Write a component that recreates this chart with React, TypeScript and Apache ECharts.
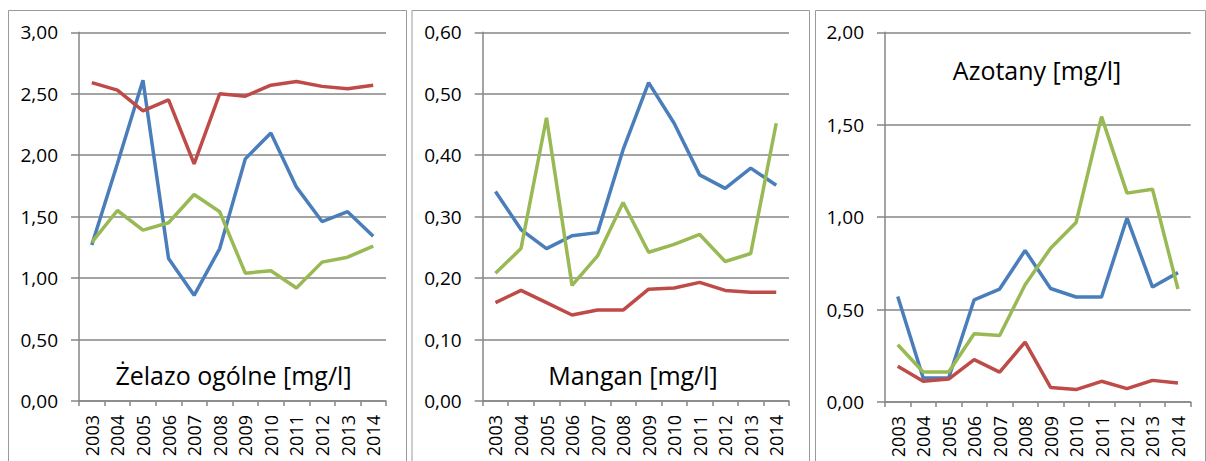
import React, { useEffect, useRef } from "react";
import * as echarts from "echarts";

const years = ["2003", "2004", "2005", "2006", "2007", "2008", "2009", "2010", "2011", "2012", "2013", "2014"];

const feBlue = [1.27, 1.93, 2.61, 1.16, 0.86, 1.24, 1.97, 2.18, 1.74, 1.46, 1.54, 1.34];
const feRed = [2.59, 2.53, 2.36, 2.45, 1.93, 2.5, 2.48, 2.57, 2.6, 2.56, 2.54, 2.57];
const feGreen = [1.29, 1.55, 1.39, 1.45, 1.68, 1.54, 1.04, 1.06, 0.92, 1.13, 1.17, 1.26];

const mnBlue = [0.341, 0.279, 0.248, 0.269, 0.274, 0.409, 0.518, 0.452, 0.368, 0.346, 0.379, 0.351];
const mnRed = [0.16, 0.18, 0.16, 0.14, 0.148, 0.148, 0.182, 0.184, 0.193, 0.18, 0.177, 0.177];
const mnGreen = [0.208, 0.248, 0.461, 0.188, 0.236, 0.323, 0.242, 0.255, 0.271, 0.227, 0.24, 0.452];

const noBlue = [0.571, 0.13, 0.13, 0.553, 0.611, 0.82, 0.614, 0.568, 0.568, 0.995, 0.622, 0.7];
const noRed = [0.193, 0.112, 0.124, 0.229, 0.162, 0.324, 0.079, 0.067, 0.112, 0.072, 0.117, 0.103];
const noGreen = [0.31, 0.162, 0.162, 0.369, 0.36, 0.634, 0.832, 0.971, 1.544, 1.13, 1.151, 0.611];

const titles = ["Żelazo ogólne [mg/l]", "Mangan [mg/l]", "Azotany [mg/l]"];
const yMax = [3, 0.6, 2];
const yInterval = [0.5, 0.1, 0.5];

const BLUE = "#4a7ebb";
const RED = "#be4b48";
const GREEN = "#98b954";
const FONT = "'Open Sans', sans-serif";

export default function App() {
  const ref = useRef<HTMLDivElement>(null);
  useEffect(() => {
    if (!ref.current) return;
    const chart = echarts.init(ref.current, null, { renderer: "svg" });
    const grids = [
      { left: 79, top: 32.3, width: 307, height: 368.7 },
      { left: 482.7, top: 32.3, width: 306.3, height: 368.7 },
      { left: 885, top: 32.3, width: 305.7, height: 369.7 },
    ];
    const seriesSets = [
      [feBlue, feRed, feGreen],
      [mnBlue, mnRed, mnGreen],
      [noBlue, noRed, noGreen],
    ];
    const colors = [BLUE, RED, GREEN];
    const xAxis = grids.map((_, i) => ({
      type: "category",
      gridIndex: i,
      data: years,
      boundaryGap: true,
      axisLine: { lineStyle: { color: "#868686", width: 1.5 } },
      axisTick: { show: true, length: 5, lineStyle: { color: "#868686", width: 1.5 } },
      axisLabel: { rotate: 90, margin: 14, color: "#000", fontSize: 18, fontFamily: FONT, interval: 0 },
    }));
    const yAxis = grids.map((_, i) => ({
      type: "value",
      gridIndex: i,
      min: 0,
      max: yMax[i],
      interval: yInterval[i],
      axisLine: { show: true, lineStyle: { color: "#868686", width: 1.5 } },
      axisTick: { show: true, length: 8, lineStyle: { color: "#868686", width: 1.5 } },
      splitLine: { show: true, lineStyle: { color: "#868686", width: 1.5 } },
      axisLabel: {
        margin: 21,
        color: "#000",
        fontSize: 19,
        fontFamily: FONT,
        formatter: (v: number) => v.toFixed(2).replace(".", ","),
      },
    }));
    const series: any[] = [];
    seriesSets.forEach((set, gi) => {
      set.forEach((data, si) => {
        series.push({
          type: "line",
          xAxisIndex: gi,
          yAxisIndex: gi,
          data,
          symbol: "none",
          lineStyle: { color: colors[si], width: 3.5 },
          itemStyle: { color: colors[si] },
        });
      });
    });
    const borders = [
      { x: 8, w: 398 },
      { x: 411.5, w: 397.5 },
      { x: 815, w: 390 },
    ];
    const titlePos = [
      { x: 233.5, y: 375 },
      { x: 633, y: 375 },
      { x: 1037, y: 70 },
    ];
    const graphic: any[] = [];
    borders.forEach((b) => {
      graphic.push({
        type: "rect",
        shape: { x: b.x + 0.5, y: 10.5, width: b.w, height: 470 },
        style: { fill: "none", stroke: "#9a9a9a", lineWidth: 1 },
        silent: true,
        z: -1,
      });
    });
    titlePos.forEach((p, i) => {
      graphic.push({
        type: "text",
        x: p.x,
        y: p.y,
        style: {
          text: titles[i],
          fill: "#000",
          font: `25px ${FONT}`,
          textAlign: "center",
          textVerticalAlign: "middle",
        },
        z: 10,
      });
    });
    chart.setOption({
      animation: false,
      backgroundColor: "#fff",
      grid: grids.map((g) => ({ ...g, containLabel: false })),
      xAxis,
      yAxis,
      series,
      graphic,
    });
    return () => chart.dispose();
  }, []);
  return (
    <div
      ref={ref}
      style={{ position: "fixed", left: 0, top: 0, width: 1206, height: 461, background: "#fff" }}
    />
  );
}
